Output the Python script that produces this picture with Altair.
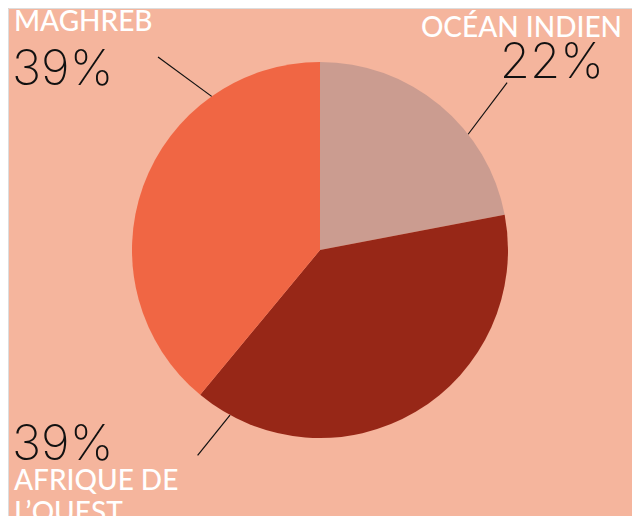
import altair as alt
import numpy as np
import pandas as pd

# ---- data ----
regions = ["Océan Indien", "Afrique de l'Ouest", "Maghreb"]
shares = [22, 39, 39]
slice_colors = ["#CB9C90", "#972717", "#F06644"]
label_names = ["OCÉAN INDIEN", "AFRIQUE DE\nL’OUEST", "MAGHREB"]
pct_labels = ["22%", "39%", "39%"]
# leader lines: angle at pie edge, angle at outer end (degrees clockwise from top), outer radius
leader_in_angle = [52, 208.6, 324.8]
leader_out_angle = [48.2, 210.8, 320]
leader_outer = [251, 239, 252]

W, H = 624, 508
CX, CY, R = 312, 242, 188
BG = "#F5B59D"

pie_df = pd.DataFrame({"region": regions, "share": shares, "order": [0, 1, 2]})

pie = alt.Chart(pie_df).mark_arc(outerRadius=R, stroke=None).encode(
    theta=alt.Theta("share:Q", stack=True),
    order=alt.Order("order:Q"),
    color=alt.Color("region:N", scale=alt.Scale(domain=regions, range=slice_colors), legend=None),
    x=alt.value(CX),
    y=alt.value(CY),
)

rows = []
for reg, ai, ao, ro in zip(regions, leader_in_angle, leader_out_angle, leader_outer):
    ti, to = np.deg2rad(ai), np.deg2rad(ao)
    rows.append({
        "region": reg,
        "x": CX + R * np.sin(ti), "y": CY - R * np.cos(ti),
        "x2": CX + ro * np.sin(to), "y2": CY - ro * np.cos(to),
    })
lines_df = pd.DataFrame(rows)
xs = alt.Scale(domain=[0, W], range=[0, W], nice=False, zero=False)
ys = alt.Scale(domain=[0, H], range=[0, H], nice=False, zero=False)
lines = alt.Chart(lines_df).mark_rule(color="#111111", strokeWidth=1.2).encode(
    x=alt.X("x:Q", scale=xs, axis=None),
    y=alt.Y("y:Q", scale=ys, axis=None),
    x2="x2:Q",
    y2="y2:Q",
)

NUM_FONT = dict(font="Inter", fontWeight=200, fontSize=49, color="#111111")
LAB_FONT = dict(font="Lato", fontWeight=500, fontSize=28, color="#FFFFFF")

def txt(text, x, y, align, style, baseline="alphabetic", lh=None):
    extra = {}
    if lh is not None:
        extra["lineHeight"] = lh
    return alt.Chart(pd.DataFrame({"t": [text]})).mark_text(
        align=align, baseline=baseline, lineBreak="\n", **style, **extra
    ).encode(text="t:N", x=alt.value(x), y=alt.value(y))

texts = [
    txt(label_names[2], 6, 23, "left", LAB_FONT),
    txt(pct_labels[2], 4, 77, "left", NUM_FONT),
    txt(label_names[0], 614, 29, "right", LAB_FONT),
    txt(pct_labels[0], 596, 70, "right", NUM_FONT),
    txt(pct_labels[1], 4, 452, "left", NUM_FONT),
    txt(label_names[1], 6, 482, "left", LAB_FONT, lh=32),
]

chart = alt.layer(pie, lines, *texts).properties(
    width=W, height=H, background=BG, padding=0
).configure_view(stroke=None).configure(autosize=alt.AutoSizeParams(type="none"))

chart.save("out.html", embed_options={"renderer": "svg", "actions": False})
